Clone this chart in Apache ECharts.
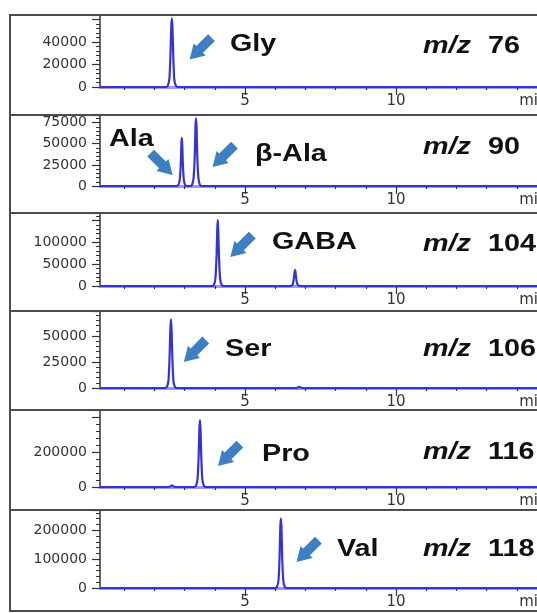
<!DOCTYPE html>
<html>
<head>
<meta charset="utf-8">
<script src="https://cdn.jsdelivr.net/npm/echarts@6/dist/echarts.min.js"></script>
<style>
  html, body { margin: 0; padding: 0; overflow: hidden; background: #fff; }
  #chart { width: 620px; height: 613px; }
</style>
</head>
<body>
<div id="chart"></div>
<script>
// Retention-time axis (min)
const xMajorTicks = [5, 10];
const xMinorTicks = [1, 2, 3, 4, 6, 7, 8, 9, 11, 12, 13, 14, 15];
const xUnit = 'min';

// One panel per extracted ion
const mzValues = [76, 90, 104, 106, 116, 118];
const compounds = [['Gly'], ['Ala', 'β-Ala'], ['GABA'], ['Ser'], ['Pro'], ['Val']];

// Intensity axes
const yMax = [64000, 84000, 167000, 74000, 440000, 270000];
const yStep = [20000, 25000, 50000, 25000, 200000, 100000];
const yLabels = [
  [0, 20000, 40000],
  [0, 25000, 50000, 75000],
  [0, 50000, 100000],
  [0, 25000, 50000],
  [0, 200000],
  [0, 100000, 200000]
];

// Extracted ion chromatograms: [time (min), intensity]
const traceMz76 = [[0.2,0],[2.38,0],[2.45,1500],[2.50,8000],[2.535,30000],[2.56,54000],[2.58,61000],[2.60,53000],[2.625,28000],[2.66,7000],[2.71,1200],[2.78,0],[15.2,0]];
const traceMz90 = [[0.2,0],[2.72,0],[2.79,1200],[2.84,7000],[2.875,27000],[2.895,50000],[2.91,57000],[2.925,49000],[2.945,25000],[2.98,6000],[3.03,900],[3.09,0],
                   [3.19,0],[3.25,1500],[3.30,10000],[3.34,38000],[3.362,71000],[3.38,80000],[3.398,70000],[3.42,36000],[3.46,9000],[3.51,1300],[3.57,0],[15.2,0]];
const traceMz104 = [[0.2,0],[3.90,0],[3.97,2500],[4.02,16000],[4.06,70000],[4.083,131000],[4.10,151000],[4.117,129000],[4.14,67000],[4.18,15000],[4.23,2200],[4.30,0],
                    [6.48,0],[6.55,800],[6.59,5500],[6.625,20000],[6.645,33000],[6.66,36700],[6.675,32000],[6.695,18000],[6.73,5000],[6.78,700],[6.84,0],[15.2,0]];
const traceMz106 = [[0.2,0],[2.35,0],[2.42,1500],[2.47,8000],[2.505,31000],[2.53,57000],[2.55,66000],[2.57,56000],[2.595,30000],[2.63,7000],[2.68,1200],[2.75,0],
                    [6.70,0],[6.80,1200],[6.90,0],[15.2,0]];
const traceMz116 = [[0.2,0],[2.45,0],[2.52,3000],[2.58,9000],[2.64,3000],[2.71,0],
                    [3.31,0],[3.38,8000],[3.43,45000],[3.468,180000],[3.49,330000],[3.51,383000],[3.53,328000],[3.552,176000],[3.59,42000],[3.64,7000],[3.71,0],[15.2,0]];
const traceMz118 = [[0.2,0],[5.99,0],[6.06,4500],[6.11,26000],[6.148,112000],[6.17,210000],[6.19,241000],[6.21,208000],[6.232,108000],[6.27,24000],[6.32,4000],[6.39,0],[15.2,0]];

const traces = [traceMz76, traceMz90, traceMz104, traceMz106, traceMz116, traceMz118];

// ---- layout & styling ----
const panelTop = [15, 115, 213, 311, 410, 510];
const panelBase = [87, 186, 286, 388, 487, 588];
const frameBottom = 611;
const plotLeft = 100, plotWidth = 453;
const xMin = 0.2, xMax = 15.2;
const unitLabelAt = 14.55;

// arrow annotations (in data units) pointing at each peak
const arrowMarks = [
  [{ at: [3.53, 34200], dir: 'dl' }],
  [{ at: [2.24, 26000], dir: 'dr' }, { at: [4.29, 35500], dir: 'dl' }],
  [{ at: [4.88, 91500], dir: 'dl' }],
  [{ at: [3.34, 35600], dir: 'dl' }],
  [{ at: [4.47, 183000], dir: 'dl' }],
  [{ at: [7.07, 128000], dir: 'dl' }]
];
// compound name positions (left x, middle y) in px
const nameAt = [
  [[230, 45]],
  [[109, 140], [255, 155]],
  [[272, 243]],
  [[225, 350]],
  [[262, 455]],
  [[337, 550]]
];
const mzAtY = [47, 148, 245, 350, 453, 550];

const arrowPath = 'path://M0,3.5 L13,3.5 L13,0 L24,8 L13,16 L13,12.5 L0,12.5 Z';
const labelFont = '"DejaVu Sans", sans-serif';
const bigFont = '"Liberation Sans", Arial, sans-serif';
const axisInk = '#333';

const grids = [], xAxes = [], yAxes = [], series = [], graphics = [];

traces.forEach((trace, i) => {
  grids.push({ left: plotLeft, width: plotWidth, top: panelTop[i], height: panelBase[i] - panelTop[i] });

  // main time axis: baseline, 5/10 ticks and labels
  xAxes.push({
    type: 'value', gridIndex: i, min: xMin, max: xMax, position: 'bottom',
    axisLine: { show: true, onZero: false, lineStyle: { color: '#9a9ae8', width: 3 } },
    axisTick: { show: true, customValues: xMajorTicks, length: 8, lineStyle: { color: axisInk, width: 1.2 } },
    axisLabel: {
      show: true, customValues: xMajorTicks.concat([unitLabelAt]),
      formatter: v => (v > 14 ? xUnit : String(v)),
      margin: 7, fontFamily: labelFont, fontSize: 15, color: axisInk
    },
    splitLine: { show: false }
  });
  // one-minute ticks
  xAxes.push({
    type: 'value', gridIndex: i, min: xMin, max: xMax, position: 'bottom',
    axisLine: { show: false, onZero: false },
    axisTick: { show: true, customValues: xMinorTicks, length: 3, lineStyle: { color: axisInk, width: 1.2 } },
    axisLabel: { show: false },
    splitLine: { show: false }
  });

  yAxes.push({
    type: 'value', gridIndex: i, min: 0, max: yMax[i], interval: yStep[i],
    axisLine: { show: true, onZero: false, lineStyle: { color: axisInk, width: 1.5 } },
    axisTick: { show: true, length: 8, lineStyle: { color: axisInk, width: 1.2 } },
    minorTick: { show: true, splitNumber: 5, length: 4, lineStyle: { color: axisInk, width: 1 } },
    axisLabel: {
      formatter: v => (yLabels[i].indexOf(v) >= 0 ? String(v) : ''),
      margin: 13, fontFamily: labelFont, fontSize: 14, color: axisInk
    },
    splitLine: { show: false },
    minorSplitLine: { show: false }
  });

  series.push({
    type: 'line', xAxisIndex: 2 * i, yAxisIndex: i, data: trace,
    showSymbol: false, smooth: 0.2, animation: false,
    lineStyle: { color: '#3434d6', width: 2.2 },
    markPoint: {
      silent: true, animation: false, label: { show: false },
      data: arrowMarks[i].map(a => ({
        coord: a.at, symbol: arrowPath, symbolSize: [31, 17],
        symbolRotate: a.dir === 'dl' ? 225 : -45,
        itemStyle: { color: '#3d7fc2' }
      }))
    }
  });

  // panel frame
  const bottom = i < traces.length - 1 ? panelTop[i + 1] : frameBottom;
  graphics.push({
    type: 'rect', silent: true, z: 5,
    shape: { x: 10, y: panelTop[i], width: 640, height: bottom - panelTop[i] },
    style: { fill: 'none', stroke: '#4d4d4d', lineWidth: 2 }
  });

  // compound names
  compounds[i].forEach((name, k) => {
    graphics.push({
      type: 'text', silent: true, x: nameAt[i][k][0], y: nameAt[i][k][1], scaleX: 1.25,
      style: { text: name, font: 'bold 23px ' + bigFont, fill: '#111', verticalAlign: 'middle' }
    });
  });

  // m/z tag
  graphics.push({
    type: 'text', silent: true, x: 423, y: mzAtY[i], scaleX: 1.25,
    style: { text: 'm/z', font: 'italic bold 23px ' + bigFont, fill: '#111', verticalAlign: 'middle' }
  });
  graphics.push({
    type: 'text', silent: true, x: 488, y: mzAtY[i], scaleX: 1.25,
    style: { text: String(mzValues[i]), font: 'bold 23px ' + bigFont, fill: '#111', verticalAlign: 'middle' }
  });
});

const chart = echarts.init(document.getElementById('chart'), null, { renderer: 'canvas', width: 620, height: 613 });
chart.setOption({
  backgroundColor: '#fff',
  animation: false,
  grid: grids,
  xAxis: xAxes,
  yAxis: yAxes,
  series: series,
  graphic: { elements: graphics }
});
</script>
</body>
</html>
